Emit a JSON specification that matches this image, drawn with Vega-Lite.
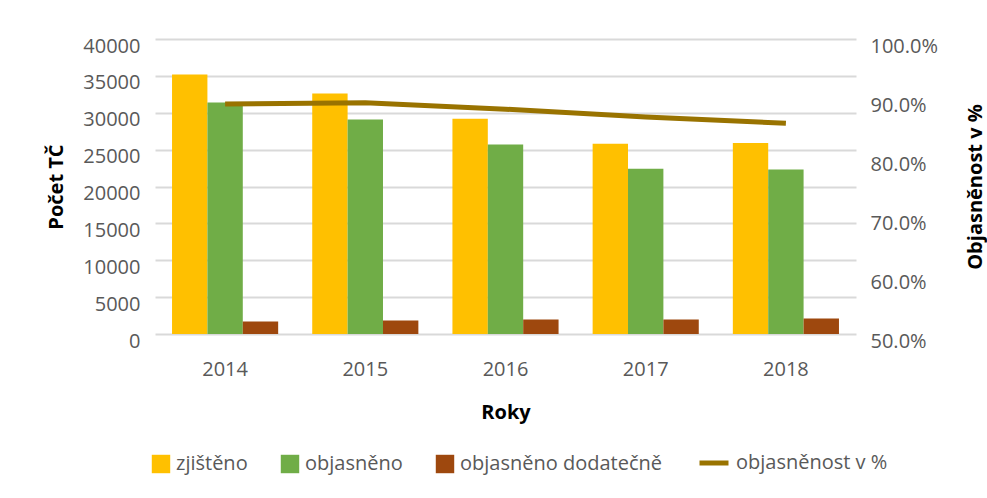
{
  "$schema": "https://vega.github.io/schema/vega-lite/v6.json",
  "width": 701,
  "height": 295,
  "autosize": {"type": "none"},
  "padding": {"left": 155, "top": 39, "right": 131, "bottom": 164},
  "background": "white",
  "config": {
    "view": {"stroke": null},
    "font": "Open Sans",
    "axis": {
      "labelFont": "Open Sans",
      "labelFontSize": 20,
      "labelColor": "#595959",
      "titleFont": "Open Sans",
      "titleFontSize": 20,
      "titleFontWeight": "bold",
      "titleColor": "#000000",
      "domain": false,
      "ticks": false
    },
    "legend": {
      "labelFont": "Open Sans",
      "labelFontSize": 20,
      "labelColor": "#595959",
      "labelLimit": 400
    }
  },
  "datasets": {
    "bars": [
      {"rok": "2014", "rada": "zjištěno", "pocet": 35200},
      {"rok": "2014", "rada": "objasněno", "pocet": 31400},
      {"rok": "2014", "rada": "objasněno dodatečně", "pocet": 1700},
      {"rok": "2015", "rada": "zjištěno", "pocet": 32600},
      {"rok": "2015", "rada": "objasněno", "pocet": 29100},
      {"rok": "2015", "rada": "objasněno dodatečně", "pocet": 1830},
      {"rok": "2016", "rada": "zjištěno", "pocet": 29200},
      {"rok": "2016", "rada": "objasněno", "pocet": 25700},
      {"rok": "2016", "rada": "objasněno dodatečně", "pocet": 1950},
      {"rok": "2017", "rada": "zjištěno", "pocet": 25800},
      {"rok": "2017", "rada": "objasněno", "pocet": 22400},
      {"rok": "2017", "rada": "objasněno dodatečně", "pocet": 1960},
      {"rok": "2018", "rada": "zjištěno", "pocet": 25900},
      {"rok": "2018", "rada": "objasněno", "pocet": 22300},
      {"rok": "2018", "rada": "objasněno dodatečně", "pocet": 2100}
    ],
    "line": [
      {"rok": "2014", "rada": "objasněnost v %", "podil": 0.890},
      {"rok": "2015", "rada": "objasněnost v %", "podil": 0.892},
      {"rok": "2016", "rada": "objasněnost v %", "podil": 0.881},
      {"rok": "2017", "rada": "objasněnost v %", "podil": 0.868},
      {"rok": "2018", "rada": "objasněnost v %", "podil": 0.857}
    ]
  },
  "encoding": {
    "x": {
      "field": "rok",
      "type": "ordinal",
      "scale": {"paddingInner": 0.243, "paddingOuter": 0.1215},
      "axis": {"title": "Roky", "labelAngle": 0, "labelPadding": 25, "titlePadding": 23, "grid": false}
    }
  },
  "layer": [
    {
      "data": {"name": "bars"},
      "mark": {"type": "bar"},
      "encoding": {
        "xOffset": {
          "field": "rada",
          "type": "nominal",
          "scale": {"domain": ["zjištěno", "objasněno", "objasněno dodatečně"], "paddingInner": 0, "paddingOuter": 0}
        },
        "y": {
          "field": "pocet",
          "type": "quantitative",
          "scale": {"domain": [0, 40000], "nice": false},
          "axis": {
            "title": "Počet TČ",
            "values": [0, 5000, 10000, 15000, 20000, 25000, 30000, 35000, 40000],
            "format": "d",
            "grid": true,
            "gridColor": "#d9d9d9",
            "gridWidth": 2,
            "labelPadding": 15,
            "labelOffset": 7,
            "titlePadding": 16
          }
        },
        "color": {
          "field": "rada",
          "type": "nominal",
          "scale": {
            "domain": ["zjištěno", "objasněno", "objasněno dodatečně"],
            "range": ["#FFC000", "#70AD47", "#9E480E"]
          },
          "legend": {
            "title": null,
            "orient": "none",
            "direction": "horizontal",
            "legendX": -4,
            "legendY": 415,
            "symbolType": "square",
            "symbolSize": 340,
            "symbolStrokeWidth": 0,
            "columnPadding": 32,
            "labelOffset": 5
          }
        }
      }
    },
    {
      "data": {"name": "line"},
      "mark": {"type": "line", "strokeWidth": 5, "strokeCap": "butt"},
      "encoding": {
        "y": {
          "field": "podil",
          "type": "quantitative",
          "scale": {"domain": [0.5, 1], "nice": false},
          "axis": {
            "orient": "right",
            "title": "Objasněnost v %",
            "titleAngle": -90,
            "titleBaseline": "top",
            "values": [0.5, 0.6, 0.7, 0.8, 0.9, 1.0],
            "format": ".1%",
            "grid": false,
            "labelPadding": 14,
            "labelOffset": 7,
            "titlePadding": 28
          }
        },
        "stroke": {
          "field": "rada",
          "type": "nominal",
          "scale": {"domain": ["objasněnost v %"], "range": ["#997300"]},
          "legend": {
            "title": null,
            "orient": "none",
            "direction": "horizontal",
            "legendX": 542,
            "legendY": 407,
            "symbolType": "stroke",
            "symbolSize": 841,
            "symbolStrokeWidth": 5,
            "labelOffset": 5
          }
        }
      }
    }
  ],
  "resolve": {"scale": {"y": "independent"}}
}
